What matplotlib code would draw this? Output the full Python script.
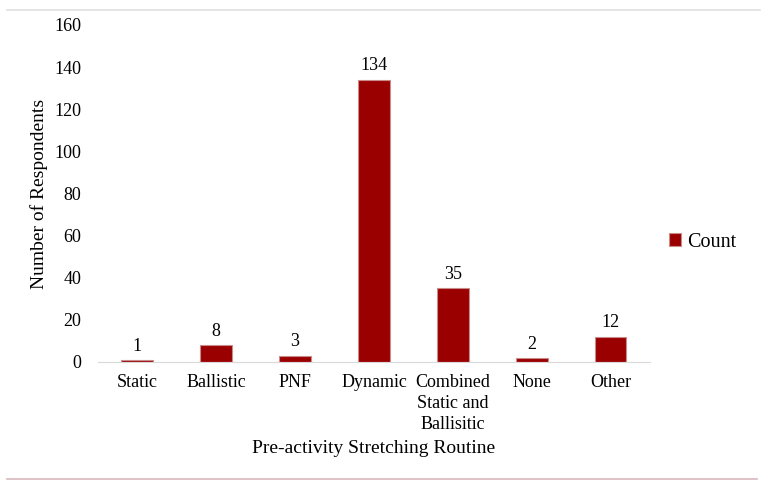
import matplotlib.pyplot as plt
from matplotlib.lines import Line2D

categories = ["Static", "Ballistic", "PNF", "Dynamic",
              "Combined\nStatic and\nBallisitic", "None", "Other"]
counts = [1, 8, 3, 134, 35, 2, 12]
yticks = [0, 20, 40, 60, 80, 100, 120, 140, 160]

plt.rcParams['font.family'] = ['Liberation Serif', 'DejaVu Serif']

fig = plt.figure(figsize=(7.64, 4.87), dpi=100)
ax = fig.add_axes([0.128, 0.2567, 0.723, 0.692])

x = range(len(categories))
bars = ax.bar(x, counts, width=0.4, color='#9b0000', edgecolor='#c88c8c',
              linewidth=0.8, label='Count')
for xi, v in zip(x, counts):
    ax.text(xi, v + 2.5, str(v), ha='center', va='bottom', fontsize=13)

ax.set_xlim(-0.5, len(categories) - 0.5)
ax.set_ylim(0, 160)
ax.set_yticks(yticks)
ax.set_xticks(list(x))
ax.set_xticklabels(categories, fontsize=13, linespacing=1.3)
ax.tick_params(axis='y', labelsize=13, length=0, pad=12)
ax.tick_params(axis='x', length=0, pad=9)
for s in ['top', 'right', 'left']:
    ax.spines[s].set_visible(False)
ax.spines['bottom'].set_color('#d9d9d9')

ax.set_ylabel("Number of Respondents", fontsize=14)
ax.yaxis.set_label_coords(-0.09, 0.5)
ax.set_xlabel("Pre-activity Stretching Routine", fontsize=14)
ax.xaxis.set_label_coords(0.5, -0.232)

ax.legend(loc='center left', bbox_to_anchor=(1.002, 0.356), frameon=False,
          fontsize=14.5, handlelength=0.6, handleheight=0.6, handletextpad=0.3)

# frame lines
fig.add_artist(Line2D([0.009, 0.995], [1 - 10 / 487, 1 - 10 / 487],
                      color='#e0e0e0', linewidth=1.2))
fig.add_artist(Line2D([0.009, 0.991], [1 - 479 / 487, 1 - 479 / 487],
                      color='#d8b8bc', linewidth=1.2))

fig.savefig("out.png", dpi=100)
